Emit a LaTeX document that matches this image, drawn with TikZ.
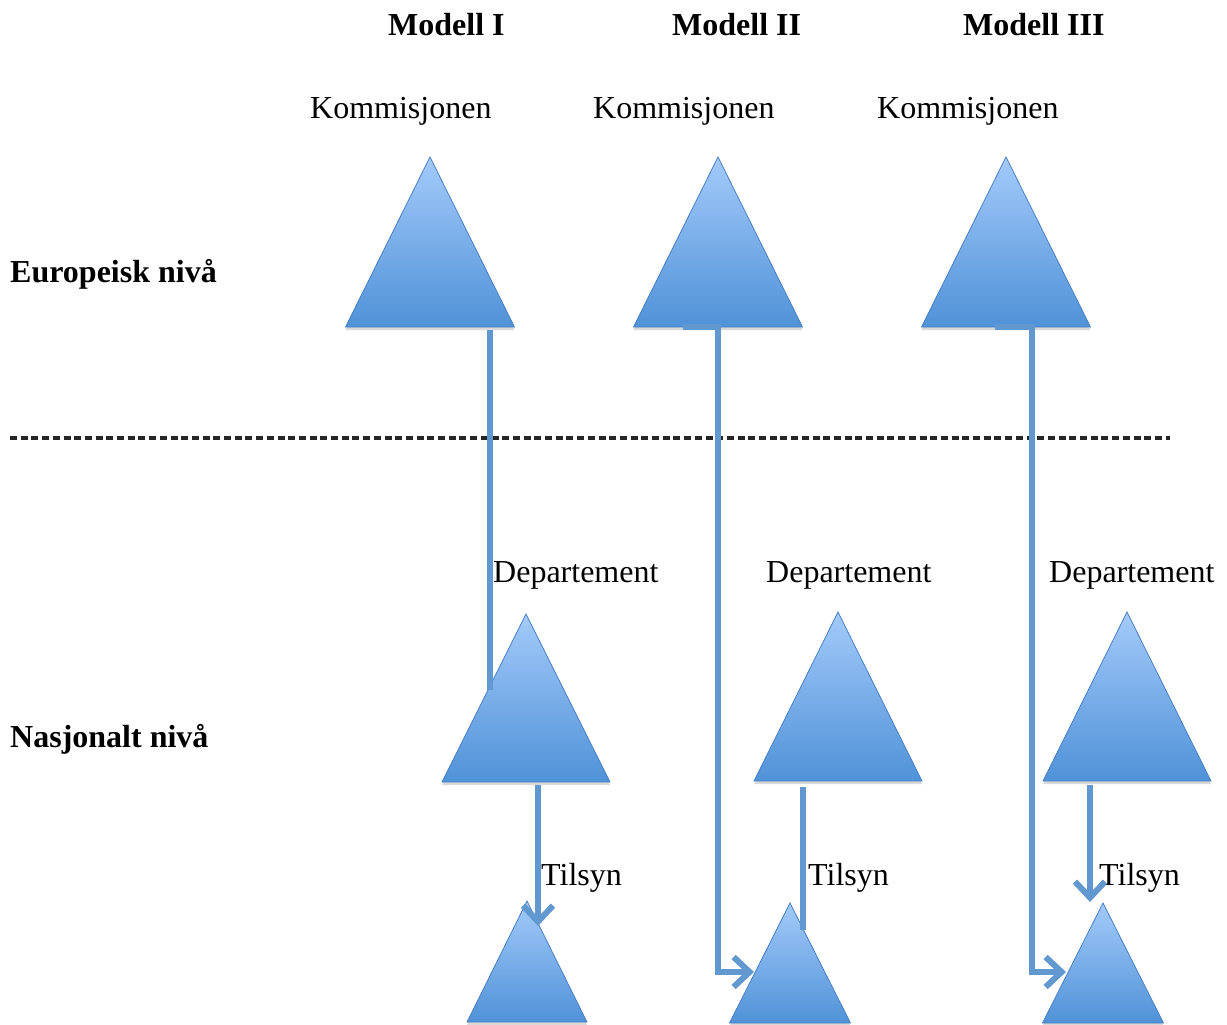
\documentclass[tikz,border=0pt]{standalone}
\usepackage{fontspec}
\setmainfont{Liberation Serif}
\usetikzlibrary{arrows.meta,shadows}

\definecolor{triTop}{RGB}{163,202,250}
\definecolor{triBot}{RGB}{80,146,216}
\definecolor{triEdge}{RGB}{72,128,194}
\definecolor{link}{RGB}{98,152,208}

\tikzset{
  label/.style={inner sep=0pt, anchor=base west, font=\fontsize{32}{38}\selectfont},
  heading/.style={label, font=\fontsize{32}{38}\selectfont\bfseries},
  tri/.style={top color=triTop, bottom color=triBot, draw=triEdge, line width=0.8pt,
    drop shadow={shadow xshift=0pt, shadow yshift=-3pt, opacity=0.3}},
  link/.style={draw=link, line width=5.5pt, line join=miter},
  linkarrow/.style={link, -{Straight Barb[length=16pt, width=30pt, line width=6pt]}},
}

% \triangleat{name}{apex x}{apex y}{half width}{height}
\newcommand{\triangleat}[5]{%
  \coordinate (#1-apex) at (#2,#3);
  \coordinate (#1-bl) at ({#2-#4},{#3+#5});
  \coordinate (#1-br) at ({#2+#4},{#3+#5});
  \path[tri] (#1-apex) -- (#1-br) -- (#1-bl) -- cycle;
}

\begin{document}
\begin{tikzpicture}[x=1pt, y=-1pt]
\useasboundingbox (0,0) rectangle (1227,1025);

% column headings
\node[heading] (m1) at (388,36) {Modell I};
\node[heading] (m2) at (672,36) {Modell II};
\node[heading] (m3) at (963,36) {Modell III};

% level labels
\node[heading] (eu) at (10,282) {Europeisk nivå};
\node[heading] (na) at (10,747) {Nasjonalt nivå};

% boundary between the two levels
\draw[black!85, line width=3.2pt, dash pattern=on 7pt off 3.7pt] (10,438) coordinate (d1) -- (1170,438) coordinate (d2);

% European level
\node[label] (k1) at (310,118) {Kommisjonen};
\node[label] (k2) at (593,118) {Kommisjonen};
\node[label] (k3) at (877,118) {Kommisjonen};
\triangleat{e1}{430}{157}{84.5}{170}
\triangleat{e2}{718}{157}{84.5}{170}
\triangleat{e3}{1006}{157}{84.5}{170}

% national level: ministries
\node[label] (dp1) at (493,582) {Departement};
\node[label] (dp2) at (766,582) {Departement};
\node[label] (dp3) at (1049,582) {Departement};
\triangleat{n1}{526}{614}{84}{168}
\triangleat{n2}{838}{612}{84}{169}
\triangleat{n3}{1127}{612}{84}{169}

% national level: agencies
\node[label] (t1) at (541,885) {Tilsyn};
\node[label] (t2) at (808,885) {Tilsyn};
\node[label] (t3) at (1099,885) {Tilsyn};
\triangleat{a1}{527}{901}{60}{121}
\triangleat{a2}{790}{903}{60.5}{120}
\triangleat{a3}{1103}{903}{60.5}{120}

% connector end points
\coordinate (p1a) at (490,330);
\coordinate (p1b) at (490,690);
\coordinate (p1c) at (538,785);
\coordinate (p1d) at (538,926);

\coordinate (p2a) at (683,327);
\coordinate (p2b) at (718,327);
\coordinate (p2c) at (718,972);
\coordinate (p2d) at (754,972);
\coordinate (p2e) at (803,787);
\coordinate (p2f) at (803,930);

\coordinate (p3a) at (995,327);
\coordinate (p3b) at (1032,327);
\coordinate (p3c) at (1032,972);
\coordinate (p3d) at (1066,972);
\coordinate (p3e) at (1090,785);
\coordinate (p3f) at (1090,902);

% Modell I
\draw[link] (p1a) -- (p1b);
\draw[linkarrow] (p1c) -- (p1d);

% Modell II
\draw[linkarrow] (p2a) -- (p2b) -- (p2c) -- (p2d);
\draw[link] (p2e) -- (p2f);

% Modell III
\draw[linkarrow] (p3a) -- (p3b) -- (p3c) -- (p3d);
\draw[linkarrow] (p3e) -- (p3f);
\end{tikzpicture}
\end{document}
